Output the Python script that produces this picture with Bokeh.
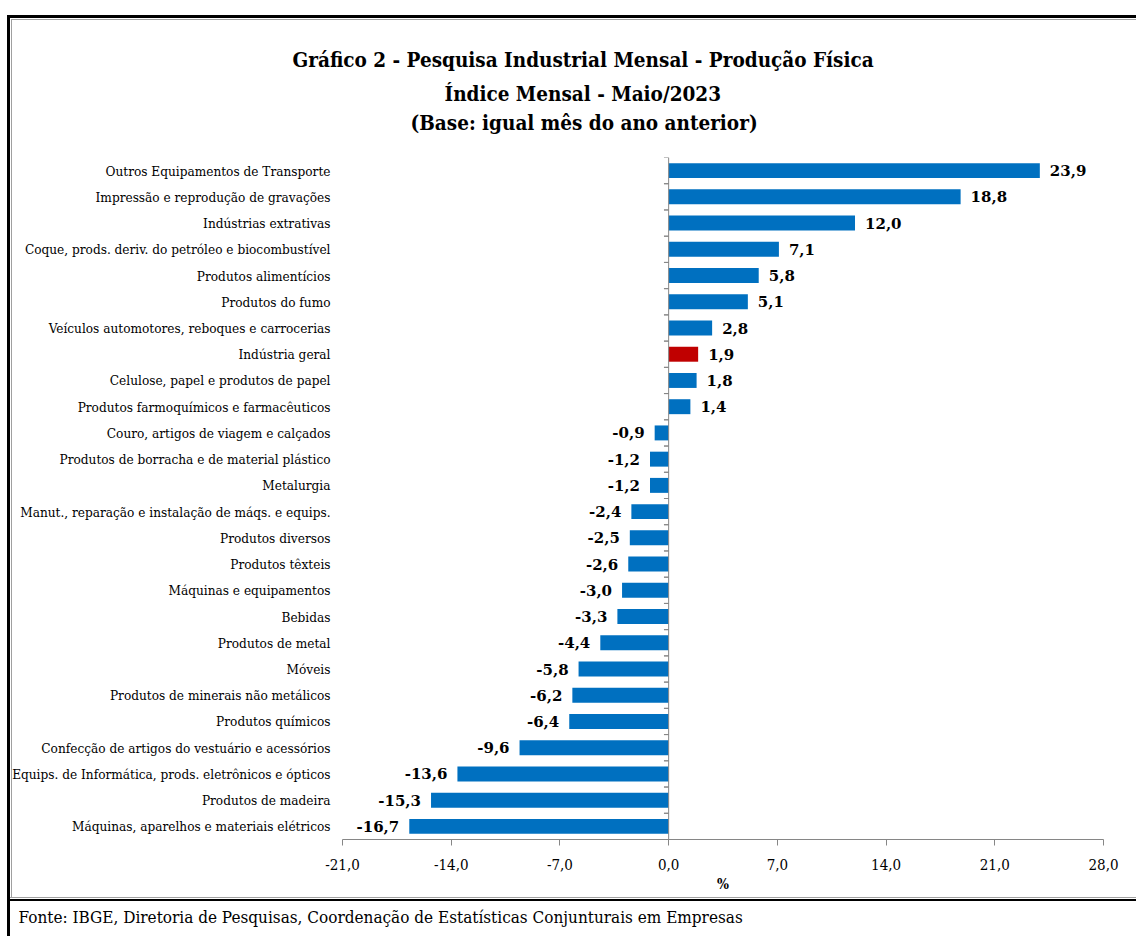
from bokeh.plotting import figure
from bokeh.models import (Range1d, FactorRange, FixedTicker, Span, Title,
                          ColumnDataSource, CustomJSTickFormatter)
from bokeh.transform import dodge
from bokeh.core.properties import value
from bokeh.embed import file_html
from bokeh.resources import INLINE

# ---------------- data ----------------
categories = [
    "Outros Equipamentos de Transporte",
    "Impressão e reprodução de gravações",
    "Indústrias extrativas",
    "Coque, prods. deriv. do petróleo e biocombustível",
    "Produtos alimentícios",
    "Produtos do fumo",
    "Veículos automotores, reboques e carrocerias",
    "Indústria geral",
    "Celulose, papel e produtos de papel",
    "Produtos farmoquímicos e farmacêuticos",
    "Couro, artigos de viagem e calçados",
    "Produtos de borracha e de material plástico",
    "Metalurgia",
    "Manut., reparação e instalação de máqs. e equips.",
    "Produtos diversos",
    "Produtos têxteis",
    "Máquinas e equipamentos",
    "Bebidas",
    "Produtos de metal",
    "Móveis",
    "Produtos de minerais não metálicos",
    "Produtos químicos",
    "Confecção de artigos do vestuário e acessórios",
    "Equips. de Informática, prods. eletrônicos e ópticos",
    "Produtos de madeira",
    "Máquinas, aparelhos e materiais elétricos",
]
values = [23.9, 18.8, 12.0, 7.1, 5.8, 5.1, 2.8, 1.9, 1.8, 1.4, -0.9, -1.2, -1.2, -2.4,
          -2.5, -2.6, -3.0, -3.3, -4.4, -5.8, -6.2, -6.4, -9.6, -13.6, -15.3, -16.7]
x_ticks = [-21, -14, -7, 0, 7, 14, 21, 28]
highlight = "Indústria geral"
title_lines = [
    "Gráfico 2 - Pesquisa Industrial Mensal - Produção Física",
    "Índice Mensal - Maio/2023",
    "(Base: igual mês do ano anterior)",
]
x_axis_label = "%"
footer_text = "Fonte: IBGE, Diretoria de Pesquisas, Coordenação de Estatísticas Conjunturais em Empresas"

# ---------------- styling ----------------
BLUE = "#0070C0"
RED = "#C00000"
AXIS_GREY = "#868686"
SERIF = "DejaVu Serif Condensed"
SERIF_WIDE = "DejaVu Serif"
TITLE_SIZE = "20.5px"
W, H = 1140, 936
# per title line: (offset from frame left, standoff)
TITLE_POS = [(-50, 12), (102, 4), (68, 3)]

# decorative box of the original, painted as stacked inset shadows (first = on top)
# (side, depth in px from that edge, colour)
box_strips = [
    ("left", 7, "#FFFFFF"), ("top", 15, "#FFFFFF"),
    ("left", 10, "#000000"), ("top", 18, "#000000"),
    ("bottom", H - 901, "#FFFFFF"), ("bottom", H - 899, "#000000"),
    ("bottom", H - 898, "#FFFFFF"), ("bottom", H - 897, "#A0A0A0"),
    ("left", 11, "#FFFFFF"), ("top", 19, "#FFFFFF"),
    ("left", 12, "#A0A0A0"), ("top", 20, "#A0A0A0"),
]


def strip_css(side, d, c):
    dx, dy = {"left": (d, 0), "top": (0, d), "bottom": (0, -d)}[side]
    return f"inset {dx}px {dy}px 0 0 {c}"


host_styles = {
    "background-color": "white",
    "box-shadow": ", ".join(strip_css(*s) for s in box_strips),
    "overflow": "hidden",
    "clip-path": "inset(0px 4px 0px 0px)",
}


def br(v):
    return f"{v:.1f}".replace(".", ",")


colors = [RED if c == highlight else BLUE for c in categories]
src = ColumnDataSource(dict(cat=categories, val=values, color=colors))
pos = [(c, v) for c, v in zip(categories, values) if v >= 0]
neg = [(c, v) for c, v in zip(categories, values) if v < 0]
pos_src = ColumnDataSource(dict(cat=[c for c, _ in pos], val=[v for _, v in pos],
                                lbl=[br(v) for _, v in pos]))
neg_src = ColumnDataSource(dict(cat=[c for c, _ in neg], val=[v for _, v in neg],
                                lbl=[br(v) for _, v in neg]))

p = figure(width=W, height=H,
           y_range=FactorRange(factors=categories[::-1]),
           x_range=Range1d(x_ticks[0], x_ticks[-1]),
           output_backend="svg", toolbar_location=None,
           min_border_left=342, min_border_right=W - 1103,
           min_border_top=157, min_border_bottom=H - 839,
           styles=host_styles)
p.grid.visible = False
p.outline_line_color = None
p.background_fill_color = None
p.border_fill_color = None


def style_title(t, text, off, so, size=TITLE_SIZE):
    t.text = text
    t.align = "left"
    t.offset = off
    t.text_font = SERIF
    t.text_font_size = size
    t.text_font_style = "bold"
    t.text_color = "black"
    t.standoff = so


# above panels: first added sits next to the frame, p.title is outermost
spacer = Title()
style_title(spacer, " ", 0, 18, size="1px")
p.add_layout(spacer, "above")
for i in (2, 1):
    t = Title()
    style_title(t, title_lines[i], *TITLE_POS[i])
    p.add_layout(t, "above")
style_title(p.title, title_lines[0], *TITLE_POS[0])

# x axis
p.xaxis.ticker = FixedTicker(ticks=x_ticks)
p.xaxis.formatter = CustomJSTickFormatter(code="return tick.toFixed(1).replace('.', ',');")
p.xaxis.axis_line_color = AXIS_GREY
p.xaxis.major_tick_line_color = AXIS_GREY
p.xaxis.major_tick_out = 6
p.xaxis.major_tick_in = 0
p.xaxis.minor_tick_line_color = None
p.xaxis.major_label_standoff = 13
p.xaxis.major_label_text_font = SERIF
p.xaxis.major_label_text_font_size = "15px"
p.xaxis.major_label_text_color = "black"
p.xaxis.axis_label = x_axis_label
p.xaxis.axis_label_text_font = SERIF
p.xaxis.axis_label_text_font_size = "14px"
p.xaxis.axis_label_text_font_style = "bold"
p.xaxis.axis_label_text_color = "black"
p.xaxis.axis_label_standoff = 3

# y axis (labels only)
p.yaxis.axis_line_color = None
p.yaxis.major_tick_line_color = None
p.yaxis.minor_tick_line_color = None
p.yaxis.major_label_standoff = 6
p.yaxis.major_label_text_font = SERIF
p.yaxis.major_label_text_font_size = "13.5px"
p.yaxis.major_label_text_color = "black"

# bars
p.hbar(y="cat", left=0, right="val", height=0.57, fill_color="color",
       line_color=None, source=src)

# centre axis line with boundary ticks
p.add_layout(Span(location=0, dimension="height", line_color=AXIS_GREY, line_width=1))
for d in (-0.5, 0.5):
    yy = dodge("cat", d, range=p.y_range)
    p.segment(x0=-0.3, x1=0, y0=yy, y1=yy, line_color=AXIS_GREY, line_width=1, source=src)

# value labels
for s, off, align in ((pos_src, 10, "left"), (neg_src, -10, "right")):
    p.text(x="val", y="cat", text="lbl", source=s, x_offset=off,
           text_align=align, text_baseline="middle", text_font=value(SERIF_WIDE),
           text_font_style="bold", text_font_size="15px", text_color="black")

# footer
foot = Title(text=footer_text, align="left", offset=-324, text_font=SERIF,
             text_font_size="17px", text_font_style="normal", text_color="black",
             standoff=20)
p.add_layout(foot, "below")

open("out.html", "w").write(file_html(p, INLINE))
